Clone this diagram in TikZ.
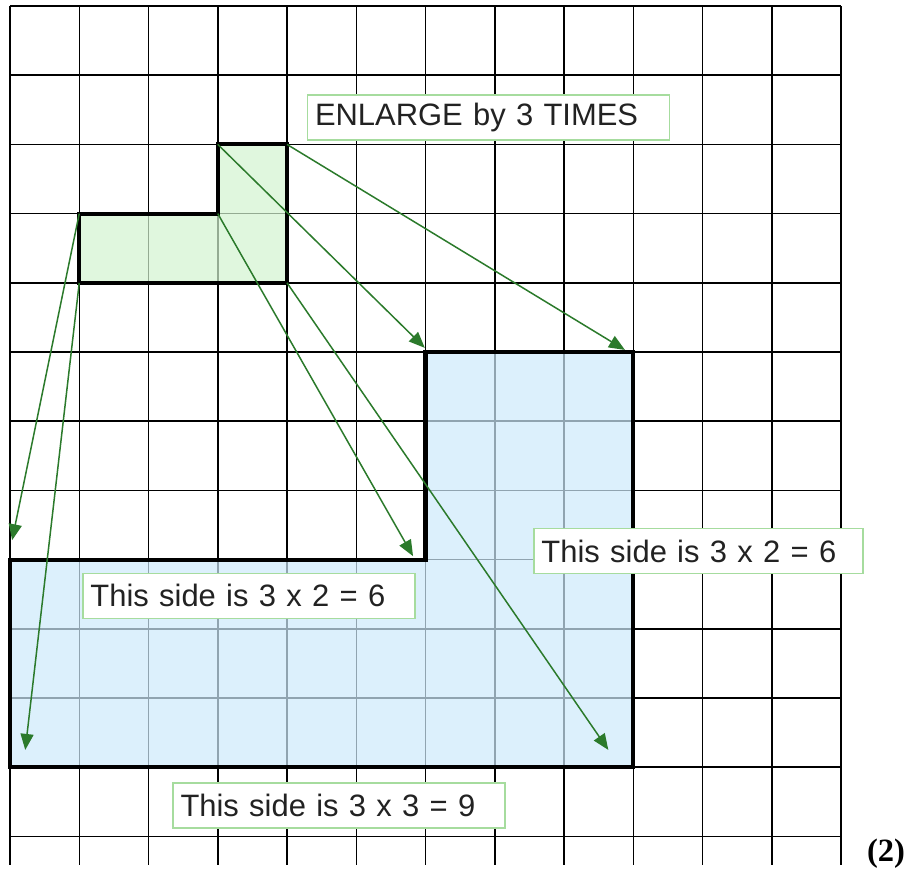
\documentclass[tikz,border=0pt]{standalone}
\usepackage{fontspec}
\usepackage{tikz}
\usetikzlibrary{arrows.meta}
\newfontfamily\labelfont{Liberation Sans}
\newfontfamily\tagfont{Liberation Serif}
\definecolor{smallfill}{HTML}{D3F5D0}
\definecolor{bigfill}{HTML}{CEEBFB}
\definecolor{arrowgreen}{HTML}{2B7A2B}
\definecolor{boxline}{HTML}{A6DC9E}
\definecolor{ink}{HTML}{222222}
\newcommand{\squaregrid}{%
  \foreach \i in {0,...,12}
    \draw[gridline] (\i,0) -- (\i,12.41);
  \foreach \j in {0,...,12}
    \draw[gridline] (0,\j) -- (12,\j);}
\tikzset{
  gridline/.style={black,line width=0.85pt},
  outline/.style={draw=black,line width=2.3pt,line join=miter,fill opacity=0.7},
  enlarge/.style={arrowgreen,line width=0.85pt,-{Triangle[length=0.32cm,width=0.26cm]}},
  sidebox/.style={draw=boxline,fill=white,line width=0.6pt,text=ink,
                  font=\labelfont\fontsize{17.6}{20}\selectfont,
                  align=left,inner xsep=0.15cm,minimum height=0.9cm,text width=#1},
}

\begin{document}
\begin{tikzpicture}[x=1.385cm,y=-1.384cm]
    \useasboundingbox (-0.1444,-0.0867) rectangle (12.924,12.486);
    \fill[white] (-0.1444,-0.0867) rectangle (12.924,12.486);
    \squaregrid
    % the small L and its enlargement
    \filldraw[outline,fill=smallfill] (1,3) -- (3,3) -- (3,2) -- (4,2) -- (4,4) -- (1,4) -- cycle;
    \filldraw[outline,fill=bigfill] (0,8) -- (6,8) -- (6,5) -- (9,5) -- (9,11) -- (0,11) -- cycle;
    % corners of the small shape, arrow ends near the big one
    \coordinate (s1) at (1,3);
    \coordinate (s2) at (1,4);
    \coordinate (s3) at (3,2);
    \coordinate (s4) at (3,3);
    \coordinate (s5) at (4,2);
    \coordinate (s6) at (4,4);
    \coordinate (b1) at (0.03,7.72);
    \coordinate (b2) at (0.22,10.75);
    \coordinate (b3) at (5.99,4.94);
    \coordinate (b4) at (5.82,7.95);
    \coordinate (b5) at (8.88,4.97);
    \coordinate (b6) at (8.64,10.75);
    \foreach \a/\b in {s1/b1,s2/b2,s3/b3,s4/b4,s5/b5,s6/b6}
      \draw[enlarge] (\a) -- (\b);
    \node[sidebox=6.94cm] (title) at (6.910,1.611) {ENLARGE by 3 TIMES};
    \node[sidebox=6.34cm] (sidea) at (3.451,8.519) {This side is 3 x 2 = 6};
    \node[sidebox=6.28cm] (sideb) at (9.942,7.876) {This side is 3 x 2 = 6};
    \node[sidebox=6.34cm] (sidec) at (4.751,11.553) {This side is 3 x 3 = 9};
    \node[font=\tagfont\bfseries\fontsize{18.5}{20}\selectfont,inner sep=0pt] (tag) at (12.65,12.25) {(2)};
  \end{tikzpicture}
\end{document}
